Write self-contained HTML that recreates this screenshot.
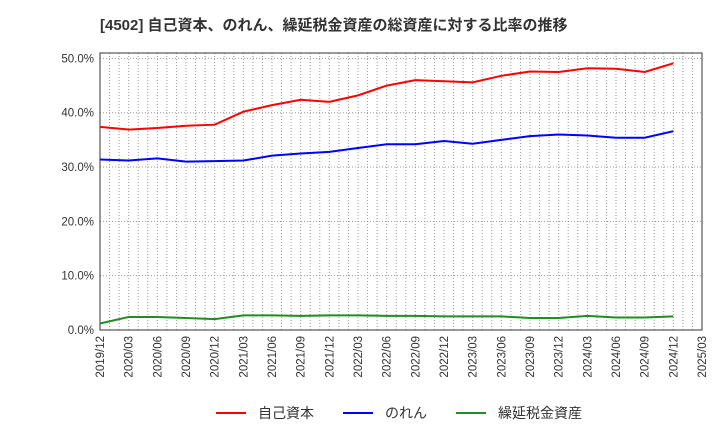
<!DOCTYPE html>
<html><head><meta charset="utf-8"><style>
body{margin:0;background:#fff;font-family:"Liberation Sans","Noto Sans CJK JP",sans-serif}
</style></head><body>
<svg width="720" height="440" xmlns="http://www.w3.org/2000/svg">
<text x="100" y="30" font-size="15" font-weight="bold" fill="#333" font-family="Liberation Sans, Noto Sans CJK JP, sans-serif">[4502]  自己資本、のれん、繰延税金資産の総資産に対する比率の推移</text>
<g id="grid"></g><g id="axes"></g><g id="series"></g>
<g font-size="14" fill="#333" font-family="Liberation Sans, Noto Sans CJK JP, sans-serif">
<g><line x1="216" y1="413" x2="246" y2="413" stroke="#f00" stroke-width="2"/><text x="258" y="418">自己資本</text></g>
<g><line x1="343" y1="413" x2="373" y2="413" stroke="#00f" stroke-width="2"/><text x="385" y="418">のれん</text></g>
<g><line x1="456" y1="413" x2="486" y2="413" stroke="#228b22" stroke-width="2"/><text x="498" y="418">繰延税金資産</text></g>
</g>
</svg>
<script>
const categories=["2019/12","2020/03","2020/06","2020/09","2020/12","2021/03","2021/06","2021/09","2021/12","2022/03","2022/06","2022/09","2022/12","2023/03","2023/06","2023/09","2023/12","2024/03","2024/06","2024/09","2024/12","2025/03"];
const equity=[37.4,36.9,37.2,37.6,37.8,40.2,41.4,42.4,42.0,43.2,45.0,46.0,45.8,45.6,46.8,47.6,47.5,48.2,48.1,47.5,49.1];
const goodwill=[31.4,31.2,31.6,31.0,31.1,31.2,32.1,32.5,32.8,33.5,34.2,34.2,34.8,34.3,35.0,35.7,36.0,35.8,35.4,35.4,36.6];
const dta=[1.2,2.4,2.4,2.2,2.0,2.7,2.7,2.6,2.7,2.7,2.6,2.6,2.5,2.5,2.5,2.2,2.2,2.6,2.3,2.3,2.5];
const yTicks=[0,10,20,30,40,50];
const NS="http://www.w3.org/2000/svg";
const L=100,R=702,T=53,B=330,yMax=51;
const x=i=>L+i*(R-L)/(categories.length-1);
const y=v=>B-v*(B-T)/yMax;
function mk(tag,attrs,parent){const e=document.createElementNS(NS,tag);for(const k in attrs)e.setAttribute(k,attrs[k]);parent.appendChild(e);return e;}
const grid=document.getElementById('grid'),axes=document.getElementById('axes'),ser=document.getElementById('series');
for(let m=0;m<=(categories.length-1)*3;m++){const gx=L+m*(R-L)/((categories.length-1)*3);
 const g=mk('line',{x1:gx,x2:gx,y1:T,y2:B,stroke:'#999','stroke-dasharray':'1,2','stroke-width':1},grid);
 
 }
yTicks.forEach(t=>{const g=mk('line',{x1:L,x2:R,y1:y(t),y2:y(t),stroke:'#999','stroke-dasharray':'1,2'},grid);
 
 
 const tx=mk('text',{x:L-6,y:y(t)+4,'text-anchor':'end','font-size':11.5,fill:'#333'},axes);tx.textContent=t.toFixed(1)+'%';
 
 });
categories.forEach((c,i)=>{const tx=mk('text',{x:0,y:0,'text-anchor':'end','font-size':11.5,fill:'#333',transform:`translate(${x(i)+4},${B+6}) rotate(-90)`},axes);tx.textContent=c;
 
 });
const fr=mk('rect',{x:L,y:T,width:R-L,height:B-T,fill:'none',stroke:'#333'},axes);


[[equity,'#f00','equity-line'],[goodwill,'#00f','goodwill-line'],[dta,'#228b22','dta-line']].forEach(([d,c,n])=>{
 const p=mk('polyline',{points:d.map((v,i)=>x(i)+','+y(v)).join(' '),fill:'none',stroke:c,'stroke-width':2},ser);
 
 });
</script>
</body></html>
